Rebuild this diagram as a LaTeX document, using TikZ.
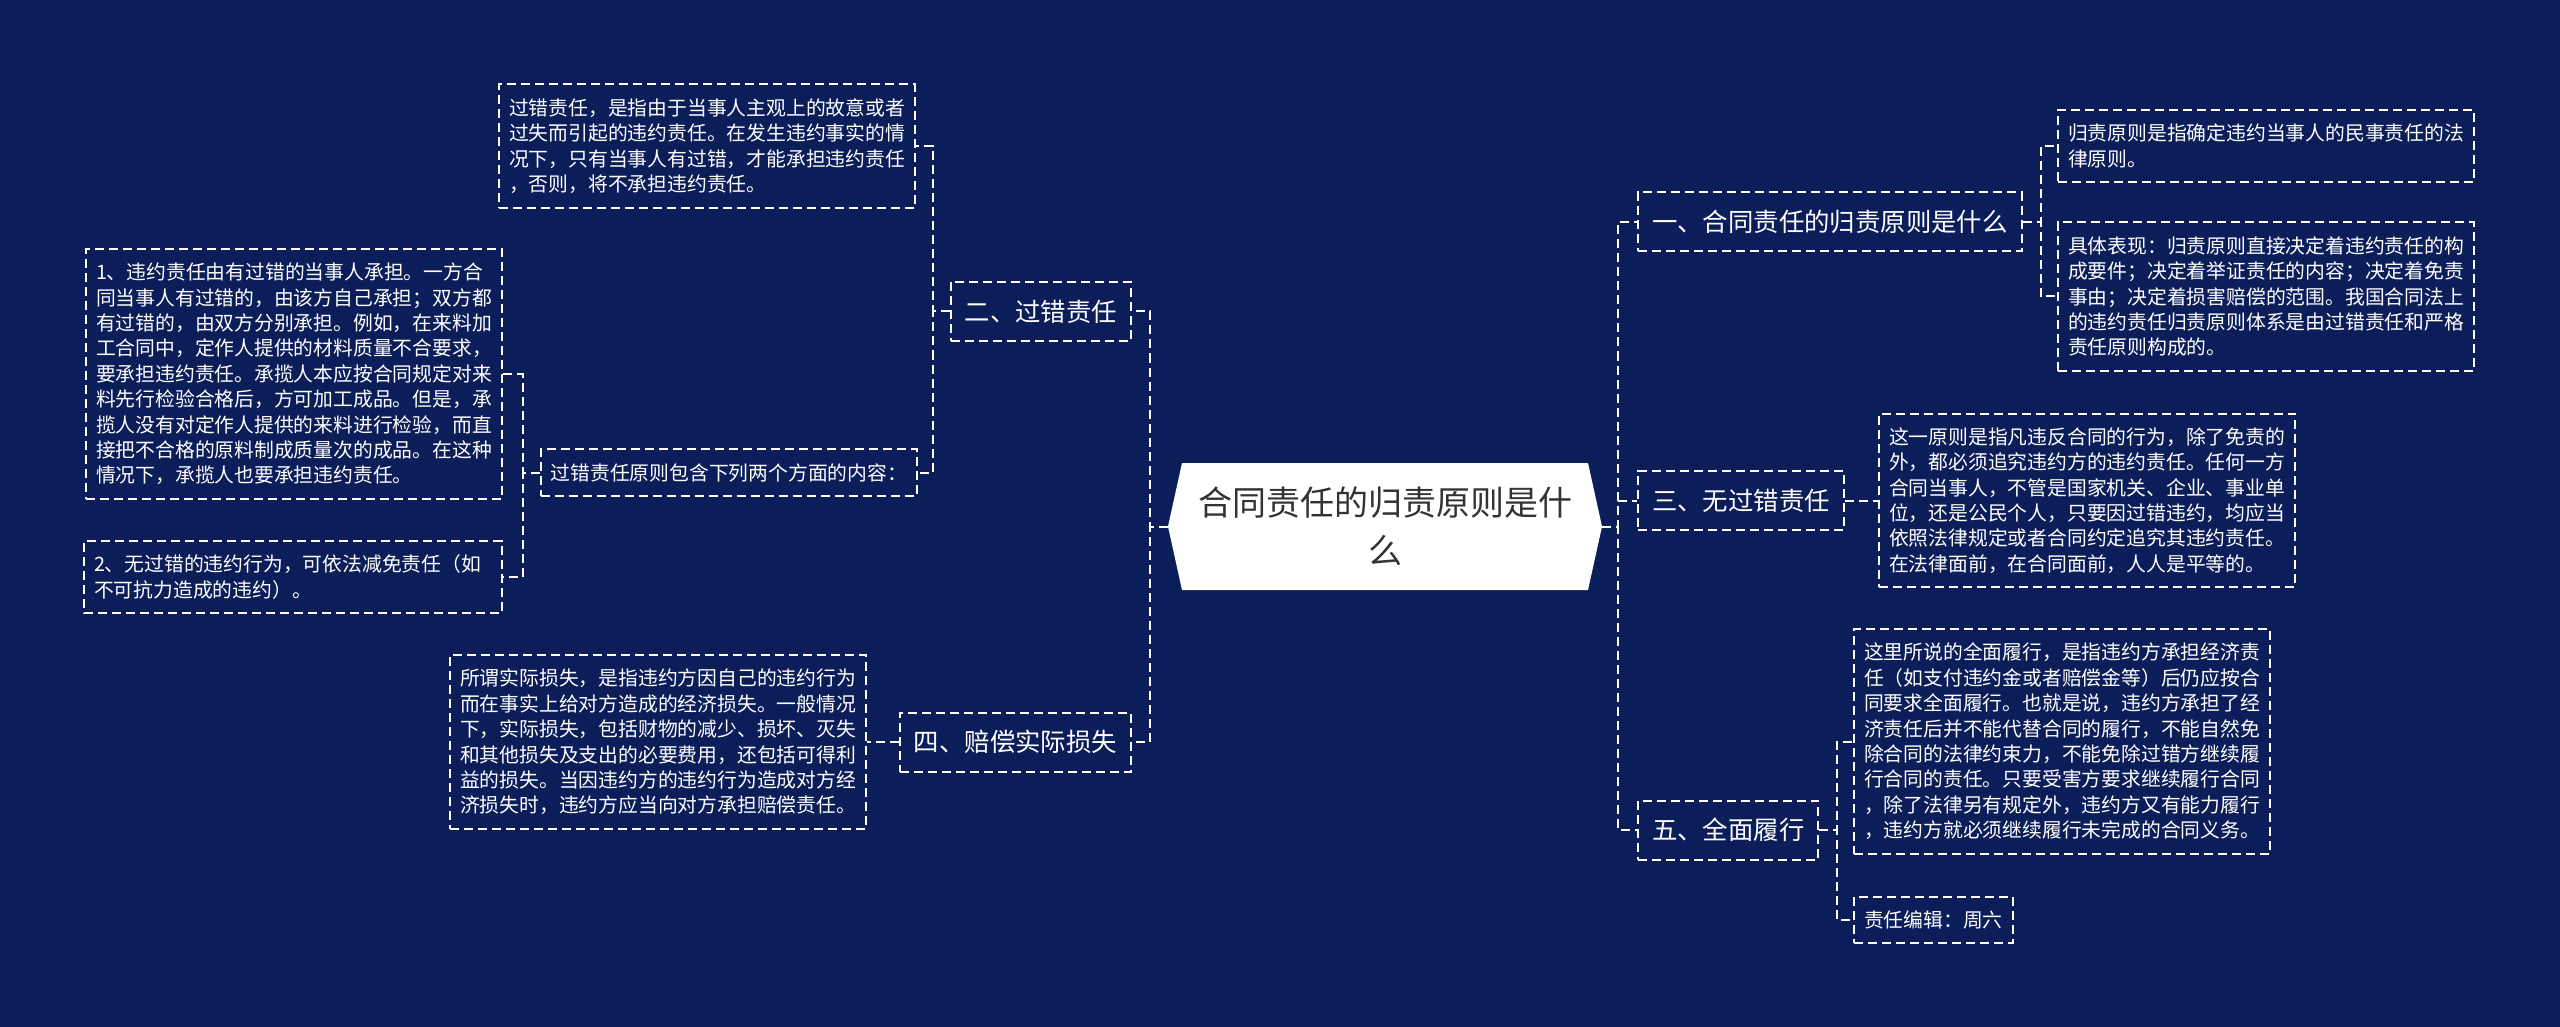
\documentclass[tikz,border=0pt]{standalone}
\usepackage{fontspec}
\newfontfamily\cjk{Noto Sans CJK SC}
\definecolor{navy}{RGB}{12,30,90}
\definecolor{ink}{RGB}{51,51,51}

\begin{document}
\begin{tikzpicture}
    [x=0.5pt,y=-0.5pt,
     hub/.style={rectangle,minimum width=217pt,minimum height=63.5pt,align=center,text=ink,
       font=\cjk\fontsize{17pt}{24pt}\selectfont},
     topic/.style={rectangle,draw=white,line width=1pt,dash pattern=on 4.5pt off 2.5pt,text=white,
       minimum height=29.5pt,inner xsep=7pt,font=\cjk\fontsize{12.7pt}{15pt}\selectfont},
     leaf/.style={rectangle,draw=white,line width=1pt,dash pattern=on 4.5pt off 2.5pt,text=white,
       align=left,inner xsep=5pt,inner ysep=7pt,font=\cjk\fontsize{9.9pt}{12.7pt}\selectfont},
     link/.style={draw=white,line width=1pt,dash pattern=on 4.5pt off 2.5pt}]

    \useasboundingbox (0,0) rectangle (2560,1027);
    \fill[navy] (0,0) rectangle (2560,1027);
    \fill[white] (1168,526.5) -- (1182,463) -- (1588,463) -- (1602,526.5) -- (1588,590) -- (1182,590) -- cycle;

    \node[hub] (main) at (1385,526.5) {合同责任的归责原则是什\\么};

    \node[topic,anchor=east] (fault) at (1132,311.5) {二、过错责任};
    \node[topic,anchor=east] (loss) at (1132,742) {四、赔偿实际损失};
    \node[topic,anchor=west] (what) at (1637,222) {一、合同责任的归责原则是什么};
    \node[topic,anchor=west] (nofault) at (1637,500.5) {三、无过错责任};
    \node[topic,anchor=west] (perform) at (1637,830) {五、全面履行};

    \node[leaf,anchor=east] (faultdef) at (916,146) {过错责任，是指由于当事人主观上的故意或者\\过失而引起的违约责任。在发生违约事实的情\\况下，只有当事人有过错，才能承担违约责任\\，否则，将不承担违约责任。};
    \node[leaf,anchor=east] (faultsub) at (918,472.5) {过错责任原则包含下列两个方面的内容：};
    \node[leaf,anchor=east] (faultone) at (503,374) {1、违约责任由有过错的当事人承担。一方合\\同当事人有过错的，由该方自己承担；双方都\\有过错的，由双方分别承担。例如，在来料加\\工合同中，定作人提供的材料质量不合要求，\\要承担违约责任。承揽人本应按合同规定对来\\料先行检验合格后，方可加工成品。但是，承\\揽人没有对定作人提供的来料进行检验，而直\\接把不合格的原料制成质量次的成品。在这种\\情况下，承揽人也要承担违约责任。};
    \node[leaf,anchor=east,text width=199pt] (faulttwo) at (503,577) {2、无过错的违约行为，可依法减免责任（如\\不可抗力造成的违约）。};
    \node[leaf,anchor=east] (lossdef) at (867,742) {所谓实际损失，是指违约方因自己的违约行为\\而在事实上给对方造成的经济损失。一般情况\\下，实际损失，包括财物的减少、损坏、灭失\\和其他损失及支出的必要费用，还包括可得利\\益的损失。当因违约方的违约行为造成对方经\\济损失时，违约方应当向对方承担赔偿责任。};

    \node[leaf,anchor=west] (whatdef) at (2057,146) {归责原则是指确定违约当事人的民事责任的法\\律原则。};
    \node[leaf,anchor=west] (whatform) at (2057,296.5) {具体表现：归责原则直接决定着违约责任的构\\成要件；决定着举证责任的内容；决定着免责\\事由；决定着损害赔偿的范围。我国合同法上\\的违约责任归责原则体系是由过错责任和严格\\责任原则构成的。};
    \node[leaf,anchor=west] (nofaultdef) at (1878,500.5) {这一原则是指凡违反合同的行为，除了免责的\\外，都必须追究违约方的违约责任。任何一方\\合同当事人，不管是国家机关、企业、事业单\\位，还是公民个人，只要因过错违约，均应当\\依照法律规定或者合同约定追究其违约责任。\\在法律面前，在合同面前，人人是平等的。};
    \node[leaf,anchor=west] (performdef) at (1853,741.5) {这里所说的全面履行，是指违约方承担经济责\\任（如支付违约金或者赔偿金等）后仍应按合\\同要求全面履行。也就是说，违约方承担了经\\济责任后并不能代替合同的履行，不能自然免\\除合同的法律约束力，不能免除过错方继续履\\行合同的责任。只要受害方要求继续履行合同\\，除了法律另有规定外，违约方又有能力履行\\，违约方就必须继续履行未完成的合同义务。};
    \node[leaf,anchor=west] (editor) at (1853,920) {责任编辑：周六};

    \draw[link] (main.west) -- ++(-18,0) |- (fault.east);
    \draw[link] (main.west) -- ++(-18,0) |- (loss.east);
    \draw[link] (main.east) -- ++(16,0) |- (what.west);
    \draw[link] (main.east) -- ++(16,0) |- (nofault.west);
    \draw[link] (main.east) -- ++(16,0) |- (perform.west);

    \draw[link] (fault.west) -- ++(-17,0) |- (faultdef.east);
    \draw[link] (fault.west) -- ++(-17,0) |- (faultsub.east);
    \draw[link] (faultsub.west) -- ++(-17,0) |- (faultone.east);
    \draw[link] (faultsub.west) -- ++(-17,0) |- (faulttwo.east);
    \draw[link] (loss.west) -- (lossdef.east);

    \draw[link] (what.east) -- ++(18,0) |- (whatdef.west);
    \draw[link] (what.east) -- ++(18,0) |- (whatform.west);
    \draw[link] (nofault.east) -- (nofaultdef.west);
    \draw[link] (perform.east) -- ++(18,0) |- (performdef.west);
    \draw[link] (perform.east) -- ++(18,0) |- (editor.west);
\end{tikzpicture}
\end{document}
